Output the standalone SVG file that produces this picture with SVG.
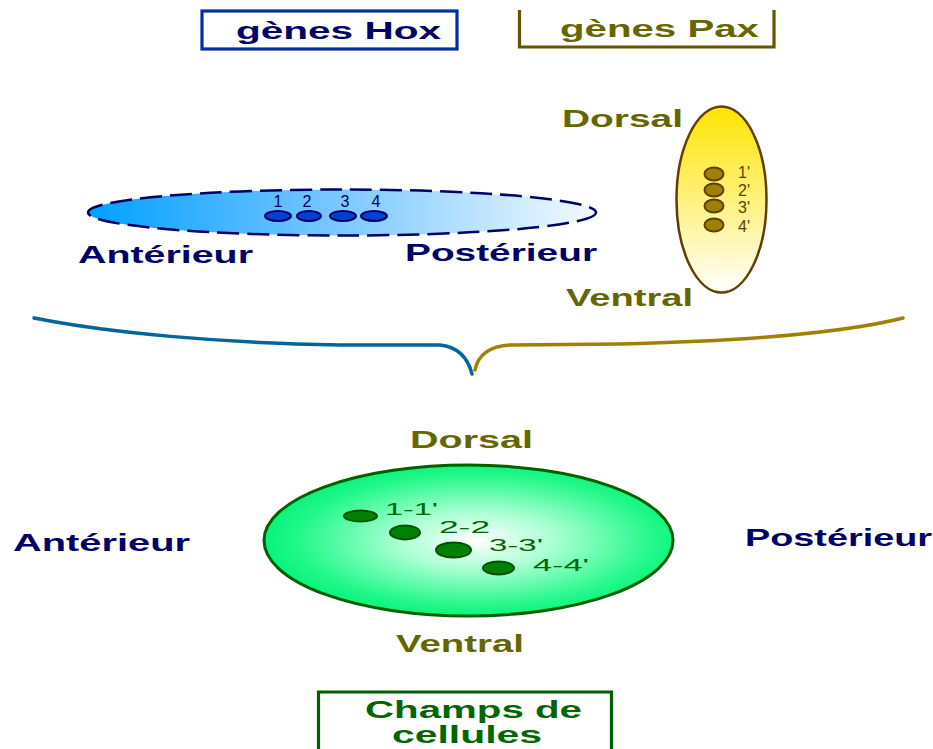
<svg xmlns="http://www.w3.org/2000/svg" width="933" height="749" viewBox="0 0 933 749">
<defs>
  <linearGradient id="gBlue" x1="0" y1="0" x2="1" y2="0">
    <stop offset="0" stop-color="#00a0ff"/>
    <stop offset="0.45" stop-color="#70c4ff"/>
    <stop offset="1" stop-color="#f4faff"/>
  </linearGradient>
  <linearGradient id="gYellow" x1="0" y1="0" x2="0" y2="1">
    <stop offset="0" stop-color="#ffe400"/>
    <stop offset="0.45" stop-color="#fff070"/>
    <stop offset="1" stop-color="#ffffff"/>
  </linearGradient>
  <radialGradient id="gGreen" cx="0.52" cy="0.5" r="0.55">
    <stop offset="0" stop-color="#ffffff"/>
    <stop offset="0.35" stop-color="#a8ffd2"/>
    <stop offset="0.8" stop-color="#20f888"/>
    <stop offset="1" stop-color="#00f078"/>
  </radialGradient>
  <style>
    .lbl { font-family: "Liberation Sans", Arial, sans-serif; font-weight: bold; font-size: 23px; }
    .navy { fill: #000066; }
    .olive { fill: #666600; }
    .green { fill: #006600; }
    .small { font-family: "Liberation Sans", Arial, sans-serif; font-size: 16px; }
    .brace { fill: none; stroke-width: 3.5; stroke-linecap: round; stroke-linejoin: round; }
  </style>
</defs>
<rect width="933" height="749" fill="#ffffff"/>

<g id="hox-title">
  <rect x="202" y="11" width="255" height="38" fill="none" stroke="#0030a0" stroke-width="3.2"/>
  <text class="lbl navy" x="236" y="39" font-size="24" textLength="205" lengthAdjust="spacingAndGlyphs">gènes Hox</text>
</g>

<g id="pax-title">
  <path d="M519.5,10 V47 H774 V10" fill="none" stroke="#665500" stroke-width="3.2"/>
  <text class="lbl olive" x="560" y="37" font-size="24" textLength="199" lengthAdjust="spacingAndGlyphs">gènes Pax</text>
</g>

<g id="hox-axis">
  <ellipse cx="342" cy="212.5" rx="254" ry="23" fill="url(#gBlue)" stroke="#000066" stroke-width="2.5" stroke-dasharray="22,8"/>
  <g fill="#0040d0" stroke="#000066" stroke-width="2">
    <ellipse cx="278" cy="216" rx="13" ry="5"/>
    <ellipse cx="309" cy="216" rx="12" ry="5"/>
    <ellipse cx="343" cy="216" rx="13" ry="5"/>
    <ellipse cx="374" cy="216" rx="13" ry="5"/>
  </g>
  <g class="small navy" font-size="15" text-anchor="middle">
    <text x="278" y="207">1</text>
    <text x="307" y="207">2</text>
    <text x="345" y="207">3</text>
    <text x="376" y="207">4</text>
  </g>
  <text class="lbl navy" x="78" y="263" font-size="21" textLength="175" lengthAdjust="spacingAndGlyphs">Antérieur</text>
  <text class="lbl navy" x="405" y="261" font-size="21" textLength="192" lengthAdjust="spacingAndGlyphs">Postérieur</text>
</g>

<g id="pax-axis">
  <ellipse cx="721.5" cy="199.5" rx="45" ry="93" fill="url(#gYellow)" stroke="#604000" stroke-width="2.5"/>
  <g fill="#a08000" stroke="#604000" stroke-width="2">
    <ellipse cx="714" cy="174" rx="9.5" ry="6.5"/>
    <ellipse cx="714" cy="190" rx="9.5" ry="6.5"/>
    <ellipse cx="714" cy="206" rx="9.5" ry="6.5"/>
    <ellipse cx="714" cy="225" rx="9.5" ry="6.5"/>
  </g>
  <g class="small" fill="#604000" font-size="15">
    <text x="738" y="178">1'</text>
    <text x="738" y="196">2'</text>
    <text x="738" y="213">3'</text>
    <text x="738" y="232">4'</text>
  </g>
  <text class="lbl olive" x="562" y="127" font-size="24" textLength="121" lengthAdjust="spacingAndGlyphs">Dorsal</text>
  <text class="lbl olive" x="566" y="306" font-size="24" textLength="127" lengthAdjust="spacingAndGlyphs">Ventral</text>
</g>

<g id="connectors">
  <path class="brace" stroke="#006699" d="M34,318 C110,333 220,343 340,345 L440,345 C458,347 468,358 472,374"/>
  <path class="brace" stroke="#a08000" d="M475,370 C478,355 490,346 510,345 L620,344 C740,341 840,334 903,318"/>
</g>

<g id="cell-field">
  <ellipse cx="468.5" cy="540.5" rx="204.5" ry="75.5" fill="url(#gGreen)" stroke="#006000" stroke-width="3"/>
  <g fill="#008000" stroke="#005000" stroke-width="2">
    <ellipse cx="360.5" cy="516" rx="16.5" ry="5.5"/>
    <ellipse cx="405" cy="532.5" rx="15" ry="7"/>
    <ellipse cx="453.5" cy="550" rx="17.5" ry="7.5"/>
    <ellipse cx="498.5" cy="568" rx="15.5" ry="6.5"/>
  </g>
  <g class="small green" font-size="17">
    <text x="385" y="515" textLength="53" lengthAdjust="spacingAndGlyphs">1-1'</text>
    <text x="439" y="533" textLength="51" lengthAdjust="spacingAndGlyphs">2-2</text>
    <text x="489" y="551" textLength="54" lengthAdjust="spacingAndGlyphs">3-3'</text>
    <text x="533" y="571" textLength="56" lengthAdjust="spacingAndGlyphs">4-4'</text>
  </g>
  <text class="lbl olive" x="410" y="448" font-size="23" textLength="123" lengthAdjust="spacingAndGlyphs">Dorsal</text>
  <text class="lbl olive" x="396" y="652" font-size="23" textLength="128" lengthAdjust="spacingAndGlyphs">Ventral</text>
  <text class="lbl navy" x="13" y="551" font-size="22" textLength="177" lengthAdjust="spacingAndGlyphs">Antérieur</text>
  <text class="lbl navy" x="745" y="546" font-size="22" textLength="187" lengthAdjust="spacingAndGlyphs">Postérieur</text>
</g>

<g id="champs-title">
  <path d="M318.5,749 V692 H611.5 V749" fill="none" stroke="#006000" stroke-width="3.2"/>
  <text class="lbl green" x="365" y="718" font-size="19" textLength="217" lengthAdjust="spacingAndGlyphs">Champs de</text>
  <text class="lbl green" x="392" y="743" font-size="19" textLength="150" lengthAdjust="spacingAndGlyphs">cellules</text>
</g>
</svg>
